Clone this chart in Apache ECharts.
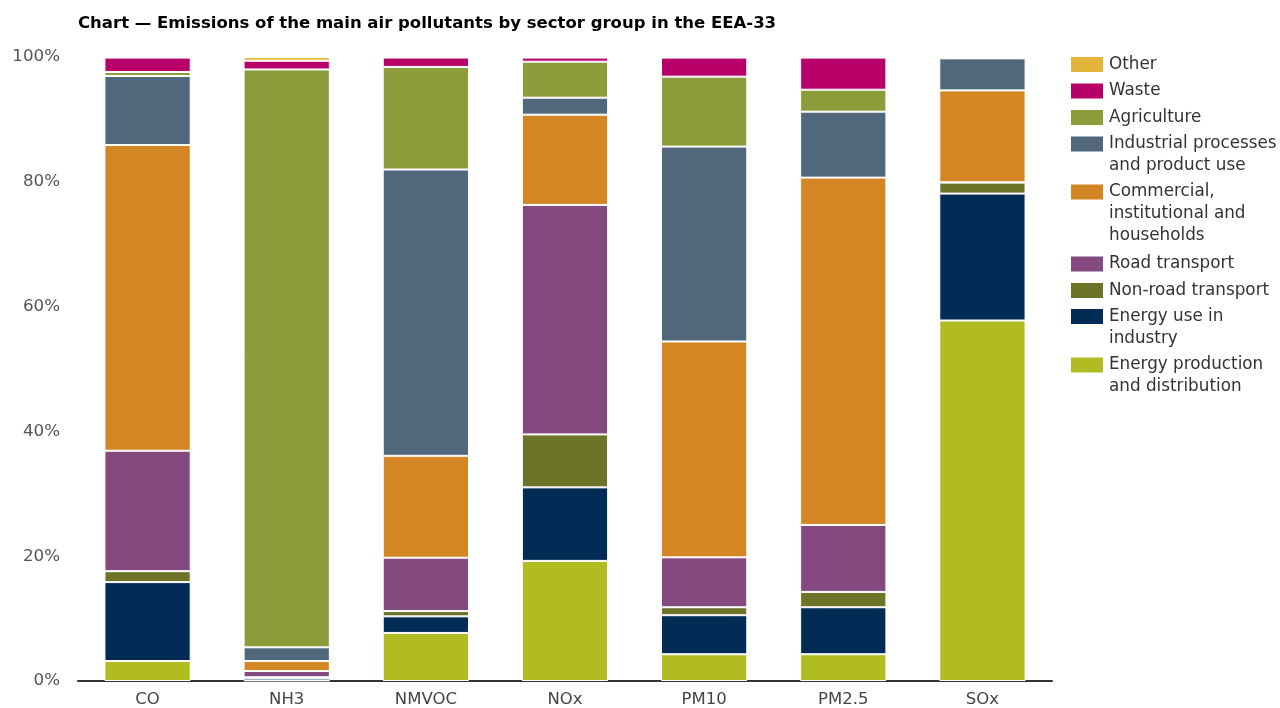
<!DOCTYPE html>
<html>
<head>
<meta charset="utf-8">
<script src="https://cdn.jsdelivr.net/npm/echarts@6/dist/echarts.min.js"></script>
<style>
  html, body { margin: 0; padding: 0; background: #fff; }
  #chart { width: 1280px; height: 708px; }
</style>
</head>
<body>
<div id="chart"></div>
<script>
// Categories (pollutants)
const categories = ['CO', 'NH3', 'NMVOC', 'NOx', 'PM10', 'PM2.5', 'SOx'];

// Shares (%) by sector group
const energyProduction = [3.2, 0.1, 7.7, 19.25, 4.29, 4.29, 57.77];
const energyUseIndustry = [12.65, 0.4, 2.66, 11.78, 6.25, 7.53, 20.34];
const nonRoadTransport = [1.75, 0.1, 0.85, 8.49, 1.28, 2.46, 1.76];
const roadTransport = [19.3, 1.0, 8.55, 36.78, 8.0, 10.73, 0.05];
const commercial = [49.0, 1.6, 16.33, 14.46, 34.59, 55.66, 14.73];
const industrial = [11.05, 2.2, 45.88, 2.72, 31.23, 10.57, 5.13];
const agriculture = [0.65, 92.6, 16.44, 5.77, 11.21, 3.52, 0.1];
const waste = [2.3, 1.4, 1.5, 0.65, 3.05, 5.14, 0.12];
const other = [0.1, 0.6, 0.1, 0.1, 0.1, 0.1, 0.1];

const yTicks = [0, 20, 40, 60, 80, 100];

const seriesDefs = [
  { name: 'Energy production and distribution', label: 'Energy production\nand distribution', data: energyProduction, color: '#b0bc22' },
  { name: 'Energy use in industry', label: 'Energy use in\nindustry', data: energyUseIndustry, color: '#022c55' },
  { name: 'Non-road transport', label: 'Non-road transport', data: nonRoadTransport, color: '#6d7428' },
  { name: 'Road transport', label: 'Road transport', data: roadTransport, color: '#844a80' },
  { name: 'Commercial, institutional and households', label: 'Commercial,\ninstitutional and\nhouseholds', data: commercial, color: '#d48524' },
  { name: 'Industrial processes and product use', label: 'Industrial processes\nand product use', data: industrial, color: '#51687c' },
  { name: 'Agriculture', label: 'Agriculture', data: agriculture, color: '#8c9c3a' },
  { name: 'Waste', label: 'Waste', data: waste, color: '#b8006a' },
  { name: 'Other', label: 'Other', data: other, color: '#e3b53a' }
];

// legend icon centre y positions (top to bottom: Other ... Energy production)
const legendCenters = {
  'Other': 64.5,
  'Waste': 91,
  'Agriculture': 117.5,
  'Industrial processes and product use': 144,
  'Commercial, institutional and households': 192,
  'Road transport': 264,
  'Non-road transport': 290.5,
  'Energy use in industry': 316.5,
  'Energy production and distribution': 365
};

const FONT = '"DejaVu Sans", Verdana, sans-serif';
const LINE_H = 22;

const legends = seriesDefs.map(s => {
  const lines = s.label.split('\n').length;
  const boxH = (2 * lines - 1) * LINE_H;
  // prepend empty lines so that the first text line is centred on the icon
  const shown = '\n'.repeat(lines - 1) + s.label;
  return {
    orient: 'vertical',
    left: 1069,
    top: legendCenters[s.name] - boxH / 2,
    padding: 0,
    itemWidth: 34,
    itemHeight: 17,
    itemGap: 0,
    selectedMode: false,
    data: [{ name: s.name, icon: 'rect' }],
    formatter: () => shown,
    textStyle: {
      fontFamily: FONT,
      fontSize: 16.8,
      color: '#333',
      lineHeight: LINE_H
    }
  };
});

const option = {
  backgroundColor: '#ffffff',
  animation: false,
  title: {
    text: 'Chart \u2014 Emissions of the main air pollutants by sector group in the EEA-33',
    left: 73,
    top: 10,
    textStyle: { fontFamily: FONT, fontSize: 16.5, fontWeight: 'bold', color: '#000' }
  },
  legend: legends,
  grid: { left: 78, right: 228, top: 57, bottom: 26.5, containLabel: false },
  xAxis: {
    type: 'category',
    data: categories,
    axisLine: { lineStyle: { color: '#333', width: 2 } },
    axisTick: { show: false },
    axisLabel: { fontFamily: FONT, fontSize: 16.5, color: '#444', margin: 10 }
  },
  yAxis: {
    type: 'value',
    min: yTicks[0],
    max: yTicks[yTicks.length - 1],
    interval: yTicks[1] - yTicks[0],
    axisLine: { show: false },
    axisTick: { show: false },
    splitLine: { show: false },
    axisLabel: { fontFamily: FONT, fontSize: 16.7, color: '#555', margin: 18, formatter: '{value}%' }
  },
  series: seriesDefs.map(s => ({
    name: s.name,
    type: 'bar',
    stack: 'total',
    barWidth: '62%',
    data: s.data,
    itemStyle: { color: s.color, borderColor: '#ffffff', borderWidth: 1 },
    emphasis: { disabled: true }
  }))
};

const chart = echarts.init(document.getElementById('chart'), null, { renderer: 'canvas' });
chart.setOption(option);
</script>
</body>
</html>
